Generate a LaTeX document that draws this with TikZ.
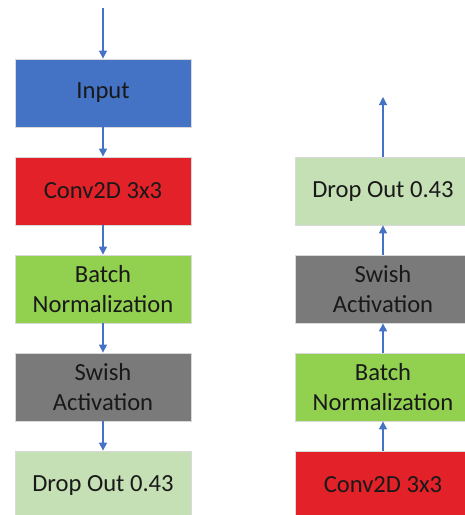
\documentclass[tikz,border=0pt]{standalone}
\usepackage{fontspec}
\setmainfont{Carlito}
\usepackage{tikz}
\usetikzlibrary{arrows.meta}
\definecolor{inblue}{HTML}{4472C4}
\definecolor{convred}{HTML}{E22228}
\definecolor{bngreen}{HTML}{92D050}
\definecolor{swgray}{HTML}{7A7A7A}
\definecolor{dolight}{HTML}{C5E0B4}
\tikzset{
  layer/.style={draw=black!15, line width=0.8pt, minimum width=176pt, minimum height=68pt,
    inner sep=0pt, align=center, text=black!90, font=\fontsize{24.6}{30}\selectfont},
  flow/.style={draw=inblue, line width=1.1pt, -{Triangle[width=8pt,length=8pt]}}
}
\newcommand{\layer}[5]{\node[layer, fill=#4] (#1) at ( #2 , #3 ) {#5};}

\begin{document}
\begin{tikzpicture}[x=1pt,y=-1pt]
\useasboundingbox (0,0) rectangle (465,515);
\clip (0,0) rectangle (465,515);
% left column
\layer{inL}{103}{93}{inblue}{Input}
\layer{convL}{103}{191}{convred}{Conv2D 3x3}
\layer{bnL}{103}{289}{bngreen}{Batch\\Normalization}
\layer{swL}{103}{387}{swgray}{Swish\\Activation}
\layer{doL}{103}{485}{dolight}{Drop Out 0.43}
\coordinate (topL) at (103,8);
% right column
\layer{convR}{383}{485}{convred}{Conv2D 3x3}
\layer{bnR}{383}{387}{bngreen}{Batch\\Normalization}
\layer{swR}{383}{289}{swgray}{Swish\\Activation}
\layer{doR}{383}{191}{dolight}{Drop Out 0.43}
\coordinate (topR) at (383,97);
% left arrows
\draw[flow] (topL) -- (inL);
\draw[flow] (inL) -- (convL);
\draw[flow] (convL) -- (bnL);
\draw[flow] (bnL) -- (swL);
\draw[flow] (swL) -- (doL);
% right arrows
\draw[flow] (convR) -- (bnR);
\draw[flow] (bnR) -- (swR);
\draw[flow] (swR) -- (doR);
\draw[flow] (doR) -- (topR);
\end{tikzpicture}
\end{document}
